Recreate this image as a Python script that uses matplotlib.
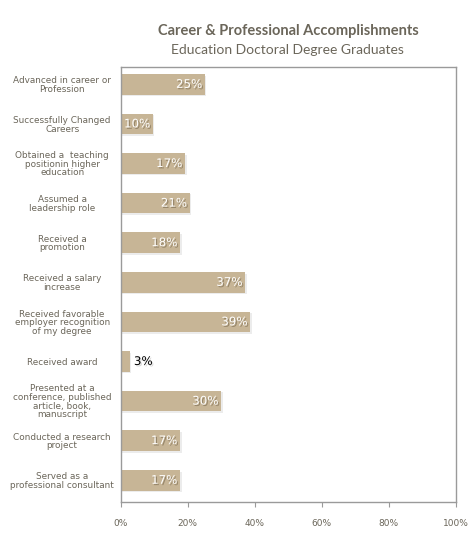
import matplotlib
matplotlib.use("Agg")
import matplotlib.pyplot as plt
import matplotlib.patheffects as pe
import numpy as np

categories = [
    "Advanced in career or\nProfession",
    "Successfully Changed\nCareers",
    "Obtained a  teaching\npositionin higher\neducation",
    "Assumed a\nleadership role",
    "Received a\npromotion",
    "Received a salary\nincrease",
    "Received favorable\nemployer recognition\nof my degree",
    "Received award",
    "Presented at a\nconference, published\narticle, book,\nmanuscript",
    "Conducted a research\nproject",
    "Served as a\nprofessional consultant",
]
values = [25.2, 9.7, 19.3, 20.7, 17.8, 37.2, 38.7, 2.8, 30.0, 17.8, 17.8]
value_labels = ["25%", "10%", "17%", "21%", "18%", "37%", "39%", "3%", "30%", "17%", "17%"]
xticks = [0, 20, 40, 60, 80, 100]

bar_color = "#c7b596"
text_color = "#6b665a"
spine_color = "#9a9a9a"

fig = plt.figure(figsize=(4.75, 5.55), dpi=100)
ax = fig.add_axes([120.5 / 475, 1 - 502 / 555, 335.5 / 475, (502 - 67.3) / 555])

y = np.arange(len(categories))
bars = ax.barh(y, values, height=0.52, color=bar_color, zorder=2)
for b in bars:
    b.set_path_effects([pe.SimplePatchShadow(offset=(1, -1.2), shadow_rgbFace="#999999", alpha=0.18),
                        pe.Normal()])

for yi, v, lab in zip(y, values, value_labels):
    if v < 6:
        t = ax.text(v + 1.2, yi, lab, ha="left", va="center", color="black",
                    fontsize=8.5, zorder=3)
        t.set_path_effects([pe.SimplePatchShadow(offset=(1, -1), shadow_rgbFace="#999999", alpha=0.4),
                            pe.Normal()])
    else:
        t = ax.text(v - 0.9, yi, lab, ha="right", va="center", color="white",
                    fontsize=8.5, zorder=3)
        t.set_path_effects([pe.SimplePatchShadow(offset=(1, -1), shadow_rgbFace="#6e5f45", alpha=0.55),
                            pe.Normal()])

ax.set_xlim(0, 100)
ax.set_ylim(10.55, -0.43)
ax.set_xticks(xticks)
ax.set_xticklabels([f"{t}%" for t in xticks], fontsize=6.5, color=text_color)
ax.set_yticks(y)
ax.set_yticklabels(categories, fontsize=6.4, color=text_color, ha="center",
                   multialignment="center", linespacing=0.95)
ax.tick_params(axis="y", length=0, pad=42)
ax.tick_params(axis="x", length=3.6, color=spine_color, pad=9)
for s in ax.spines.values():
    s.set_color(spine_color)
    s.set_linewidth(1)

fig.text(288 / 475, 1 - 31 / 555, "Career & Professional Accomplishments",
         ha="center", va="center", fontsize=10.5, fontweight="bold",
         family="Lato", color=text_color)
fig.text(287 / 475, 1 - 50 / 555, "Education Doctoral Degree Graduates",
         ha="center", va="center", fontsize=10, family="Lato", color=text_color)

fig.savefig("out.png", dpi=100)
